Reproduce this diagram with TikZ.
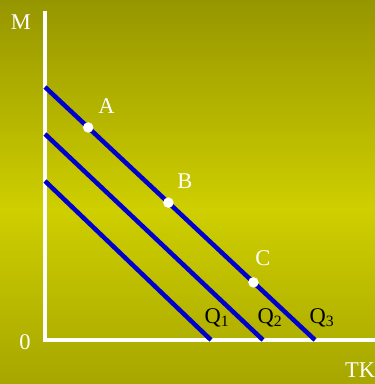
\documentclass[tikz,border=0pt]{standalone}
\usepackage{fontspec}
\setmainfont{Liberation Serif}
\definecolor{bgtop}{RGB}{150,150,0}
\definecolor{bgmid}{RGB}{206,206,0}
\definecolor{bgbot}{RGB}{166,166,0}
\definecolor{qblue}{RGB}{0,0,204}
\tikzset{
  axisline/.style={draw=white, line width=4pt},
  qline/.style={draw=qblue, line width=4.5pt},
  pt/.style={circle, fill=white, inner sep=0pt, minimum size=10.5pt},
  wlab/.style={text=white, inner sep=0pt, font=\fontsize{22.5}{26}\selectfont},
  blab/.style={text=black, inner sep=0pt, font=\fontsize{22.5}{26}\selectfont},
}
\begin{document}
\begin{tikzpicture}[x=1pt,y=-1pt]
\useasboundingbox (0,0) rectangle (375,384);
\begin{scope}
\clip (0,0) rectangle (375,384);
% background gradient (strips)
\foreach \i in {0,...,104} {
  \pgfmathsetmacro{\p}{\i*100/104}
  \fill[bgmid!\p!bgtop] (0,{\i*2}) rectangle (375,{\i*2+2.6});
}
\foreach \i in {0,...,87} {
  \pgfmathsetmacro{\p}{\i*100/87}
  \fill[bgbot!\p!bgmid] (0,{210+\i*2}) rectangle (375,{210+\i*2+2.6});
}
\end{scope}
% axes
\coordinate (ytop) at (44.5,11);
\coordinate (orig) at (44.5,340);
\coordinate (xend) at (375,340);
\draw[axisline] (ytop) -- (orig) -- (xend);
% lines
\coordinate (s3) at (45,87);
\coordinate (e3) at (315,340);
\coordinate (s2) at (45,134);
\coordinate (e2) at (263,340);
\coordinate (s1) at (45,181);
\coordinate (e1) at (211,340);
\draw[qline] (s1) -- (e1);
\draw[qline] (s2) -- (e2);
\draw[qline] (s3) -- (e3)
  node[pt, pos=0.16] (A) {}
  node[pt, pos=0.457] (B) {}
  node[pt, pos=0.772] (C) {};
% labels
\node[wlab] (lM) at (21,22) {M};
\node[wlab] (l0) at (25,342) {0};
\node[wlab] (lTK) at (360,370) {TK};
\node[wlab] (lA) at (106.5,106.5) {A};
\node[wlab] (lB) at (185,181.5) {B};
\node[wlab] (lC) at (263,258) {C};
\node[blab] (q1) at (217,318) {Q\textsubscript{1}};
\node[blab] (q2) at (270,318) {Q\textsubscript{2}};
\node[blab] (q3) at (322,318) {Q\textsubscript{3}};
\end{tikzpicture}
\end{document}
